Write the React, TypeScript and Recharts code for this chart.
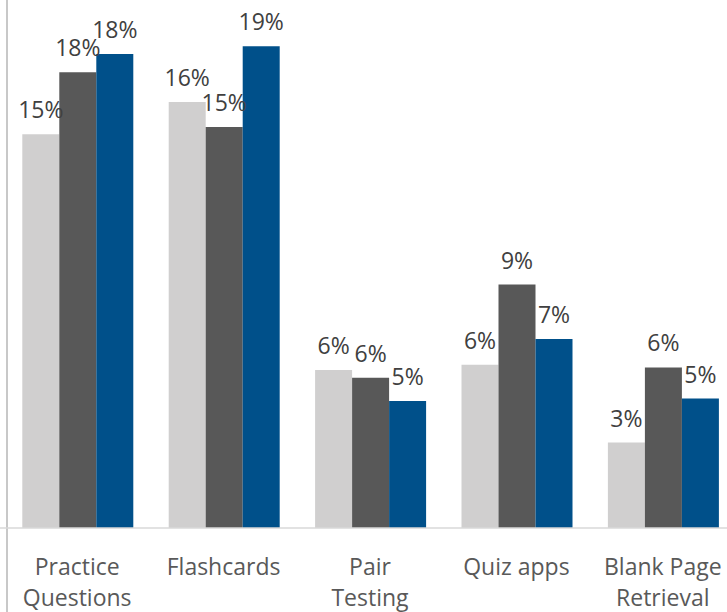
import { BarChart, Bar, XAxis, YAxis, LabelList } from "recharts";

// categories on the x axis ("\n" marks the line break in the tick label)
const categories = [
  "Practice\nQuestions",
  "Flashcards",
  "Pair\nTesting",
  "Quiz apps",
  "Blank Page\nRetrieval",
];

// three series (percent)
const seriesLight = [15.2, 16.45, 6.1, 6.3, 3.3];
const seriesDark = [17.6, 15.48, 5.8, 9.4, 6.2];
const seriesBlue = [18.3, 18.6, 4.9, 7.3, 5.0];

const COLORS = {
  light: "#d0cfcf",
  dark: "#585858",
  blue: "#00508a",
};

const FONT = "'Open Sans', 'Noto Sans', sans-serif";

const chartData = categories.map((name, i) => ({
  name,
  light: seriesLight[i],
  dark: seriesDark[i],
  blue: seriesBlue[i],
}));

function CategoryTick(props: any) {
  const { x, y, payload } = props;
  const lines = String(payload.value).split("\n");
  return (
    <text
      x={x}
      y={y}
      textAnchor="middle"
      fill="#595959"
      fontSize={23}
      fontFamily={FONT}
    >
      {lines.map((line, i) => (
        <tspan key={i} x={x} dy={i === 0 ? 47 : 31}>
          {line}
        </tspan>
      ))}
    </text>
  );
}

const pct = (v: any) => `${Math.round(Number(v))}%`;

const labelStyle = {
  fill: "#404040",
  fontSize: 23,
  fontFamily: FONT,
};

export default function App() {
  return (
    <div
      style={{
        position: "absolute",
        left: 0,
        top: 0,
        width: 727,
        height: 612,
        overflow: "hidden",
        background: "#fff",
      }}
    >
      {/* left frame line of the cropped chart */}
      <div
        style={{
          position: "absolute",
          left: 6,
          top: 0,
          width: 2,
          height: "100%",
          background: "#c8c8c8",
        }}
      />
      <BarChart
        width={740}
        height={640}
        data={chartData}
        margin={{ top: 10, right: 0, bottom: 0, left: 0 }}
        barCategoryGap="12.5%"
        barGap={0}
        style={{ position: "absolute", left: 0, top: 0 }}
      >
        <XAxis
          dataKey="name"
          height={112}
          padding={{ left: 4, right: 4 }}
          axisLine={{ stroke: "#d9d9d9", strokeWidth: 1.5 }}
          tickLine={false}
          tickSize={0}
          tickMargin={0}
          interval={0}
          tick={<CategoryTick />}
        />
        <YAxis hide domain={[0, 20]} />
        <Bar dataKey="light" fill={COLORS.light} isAnimationActive={false}>
          <LabelList dataKey="light" position="top" offset={16} formatter={pct} style={labelStyle} />
        </Bar>
        <Bar dataKey="dark" fill={COLORS.dark} isAnimationActive={false}>
          <LabelList dataKey="dark" position="top" offset={16} formatter={pct} style={labelStyle} />
        </Bar>
        <Bar dataKey="blue" fill={COLORS.blue} isAnimationActive={false}>
          <LabelList dataKey="blue" position="top" offset={16} formatter={pct} style={labelStyle} />
        </Bar>
      </BarChart>
    </div>
  );
}
